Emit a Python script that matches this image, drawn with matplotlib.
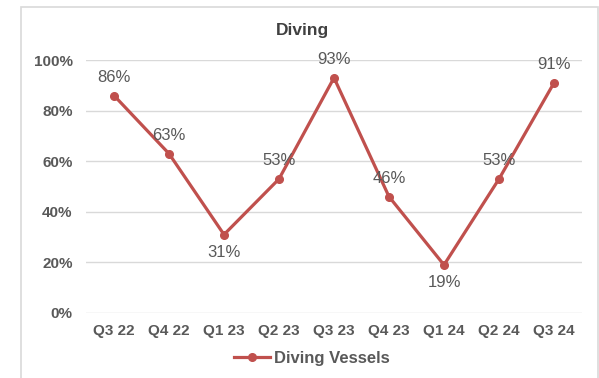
import matplotlib
matplotlib.use('Agg')
import matplotlib.pyplot as plt
from matplotlib.patches import Rectangle

plt.rcParams['font.family'] = ['Liberation Sans', 'DejaVu Sans']

quarters = ['Q3 22', 'Q4 22', 'Q1 23', 'Q2 23', 'Q3 23', 'Q4 23', 'Q1 24', 'Q2 24', 'Q3 24']
utilisation = [86, 63, 31, 53, 93, 46, 19, 53, 91]
label_pos = ['above', 'above', 'below', 'above', 'above', 'above', 'below', 'above', 'above']

line_col = '#C0504D'
txt_col = '#595959'

fig = plt.figure(figsize=(5.99, 3.78), dpi=100, facecolor='w')
ax = fig.add_axes([0.1444, 0.172, 0.8264, 0.669])

# chart border
fig.patches.append(Rectangle((21 / 599, -0.05), 577 / 599, 1.05 - 7 / 378,
                             transform=fig.transFigure, fill=False,
                             edgecolor='#d9d9d9', lw=1.2))

x = range(len(quarters))
ax.plot(x, utilisation, color=line_col, lw=2.3, marker='o', ms=5.5,
        label='Diving Vessels', zorder=3)

for xi, v, pos in zip(x, utilisation, label_pos):
    off = 13 if pos == 'above' else -13
    ax.annotate(f'{v}%', (xi, v), xytext=(0, off), textcoords='offset points',
                ha='center', va='center', fontsize=12, color=txt_col)

ax.set_xlim(-0.5, len(quarters) - 0.5)
ax.set_ylim(0, 100)
ax.set_yticks([0, 20, 40, 60, 80, 100])
ax.set_yticklabels([f'{t}%' for t in [0, 20, 40, 60, 80, 100]])
ax.set_xticks(list(x))
ax.set_xticklabels(quarters)
ax.tick_params(length=0, labelsize=11, labelcolor=txt_col, pad=8)
for lbl in ax.get_xticklabels() + ax.get_yticklabels():
    lbl.set_fontweight('bold')
ax.tick_params(axis='y', pad=10)

ax.grid(axis='y', color='#d9d9d9', lw=1)
ax.set_axisbelow(True)
for s in ax.spines.values():
    s.set_visible(False)

fig.text(0.505, 0.92, 'Diving', ha='center', va='center', fontsize=12.5,
         fontweight='bold', color='#404040')

leg = fig.legend(loc='center', bbox_to_anchor=(0.52, 0.052), frameon=False,
                 prop={'size': 12, 'weight': 'bold'}, handlelength=2.2,
                 handletextpad=0.2)
for t in leg.get_texts():
    t.set_color(txt_col)

fig.savefig('out.png', dpi=100)
